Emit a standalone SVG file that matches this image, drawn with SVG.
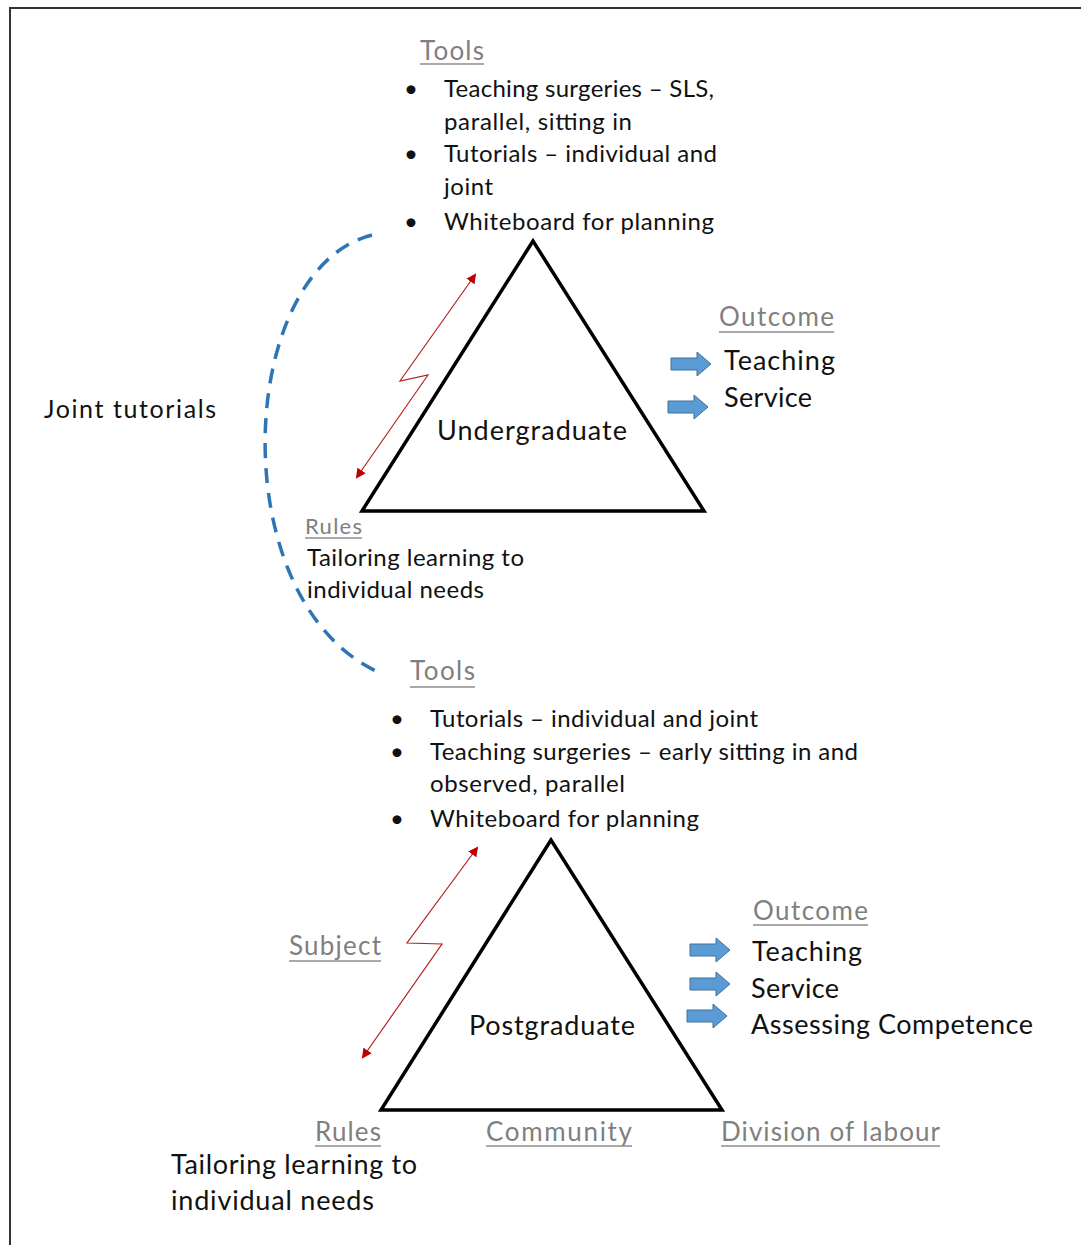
<svg xmlns="http://www.w3.org/2000/svg" width="1081" height="1245" viewBox="0 0 1081 1245">
  <style>
    text { font-family: Lato, "Liberation Sans", sans-serif; fill: #111; }
    .hd { fill: #7f7f7f; font-size: 26px; }
    .hd-s { fill: #7f7f7f; font-size: 22px; }
    .ul { stroke: #8c8c8c; stroke-width: 1.6; }
    .body { font-size: 24px; }
    .big { font-size: 27px; }
    .tri { fill: none; stroke: #000; stroke-width: 3.5; stroke-linejoin: miter; }
    .bolt { fill: none; stroke: #b22222; stroke-width: 1.2; marker-start: url(#redhead); marker-end: url(#redhead); }
    .link { fill: none; stroke: #2e75b6; stroke-width: 3.5; stroke-dasharray: 15 10; }
    .blk { fill: #5b9bd5; stroke: #41719c; stroke-width: 1; }
  </style>
  <defs>
    <marker id="redhead" viewBox="0 0 10 10" refX="8" refY="5" markerWidth="10" markerHeight="10" markerUnits="userSpaceOnUse" orient="auto-start-reverse">
      <path d="M0,0 L10,5 L0,10 Z" fill="#c00000"/>
    </marker>
    <path id="blockArrow" d="M0,6 H26 V0 L40,12 L26,24 V18 H0 Z"/>
  </defs>

  <rect width="1081" height="1245" fill="#fff"/>
  <!-- frame -->
  <path d="M10,1245 V8 H1081" fill="none" stroke="#333" stroke-width="2"/>

  <!-- connectors -->
  <g id="connectors">
    <path class="link" d="M372,235 C235,270 222,600 378,672"/>
    <path class="bolt" d="M475,275 L400,381 L428,375 L357,477"/>
    <path class="bolt" d="M477,848 L407,943 L442,944 L363,1057"/>
  </g>

  <!-- undergraduate activity system -->
  <g id="undergraduate">
    <polygon class="tri" points="533,241 362,511 704,511"/>
    <text class="big" x="437" y="440" textLength="190">Undergraduate</text>
  </g>

  <g id="ug-tools">
    <text class="hd" x="420" y="60" textLength="64">Tools</text>
    <line class="ul" x1="420" y1="64" x2="484" y2="64"/>
    <g class="body">
      <text x="404" y="97">•</text>
      <text x="444" y="97" textLength="270">Teaching surgeries – SLS,</text>
      <text x="444" y="130" textLength="188">parallel, sitting in</text>
      <text x="404" y="162">•</text>
      <text x="444" y="162" textLength="273">Tutorials – individual and</text>
      <text x="444" y="195" textLength="49">joint</text>
      <text x="404" y="230">•</text>
      <text x="444" y="230" textLength="270">Whiteboard for planning</text>
    </g>
  </g>

  <g id="ug-outcome">
    <text class="hd" x="719" y="326" textLength="115">Outcome</text>
    <line class="ul" x1="719" y1="332" x2="834" y2="332"/>
    <use href="#blockArrow" class="blk" x="671" y="352"/>
    <use href="#blockArrow" class="blk" x="668" y="395"/>
    <text class="big" x="724" y="370" textLength="111">Teaching</text>
    <text class="big" x="724" y="407" textLength="88">Service</text>
  </g>

  <g id="ug-rules">
    <text class="hd-s" x="305" y="534" textLength="57">Rules</text>
    <line class="ul" x1="305" y1="538" x2="362" y2="538"/>
    <text class="body" x="307" y="566" textLength="217">Tailoring learning to</text>
    <text class="body" x="307" y="598" textLength="177">individual needs</text>
  </g>

  <g id="joint-tutorials">
    <text x="44" y="418" font-size="25" textLength="172">Joint tutorials</text>
  </g>

  <!-- postgraduate activity system -->
  <g id="postgraduate">
    <polygon class="tri" points="551,840 381,1110 722,1110"/>
    <text class="big" x="469" y="1035" textLength="166">Postgraduate</text>
  </g>

  <g id="pg-tools">
    <text class="hd" x="410" y="680" textLength="65">Tools</text>
    <line class="ul" x1="410" y1="687" x2="475" y2="687"/>
    <g class="body">
      <text x="390" y="727">•</text>
      <text x="430" y="727" textLength="328">Tutorials – individual and joint</text>
      <text x="390" y="760">•</text>
      <text x="430" y="760" textLength="428">Teaching surgeries – early sitting in and</text>
      <text x="430" y="792" textLength="195">observed, parallel</text>
      <text x="390" y="827">•</text>
      <text x="430" y="827" textLength="269">Whiteboard for planning</text>
    </g>
  </g>

  <g id="pg-subject">
    <text class="hd" x="289" y="955" textLength="92">Subject</text>
    <line class="ul" x1="289" y1="961" x2="381" y2="961"/>
  </g>

  <g id="pg-outcome">
    <text class="hd" x="753" y="920" textLength="115">Outcome</text>
    <line class="ul" x1="753" y1="925" x2="868" y2="925"/>
    <use href="#blockArrow" class="blk" x="690" y="938"/>
    <use href="#blockArrow" class="blk" x="690" y="972"/>
    <use href="#blockArrow" class="blk" x="687" y="1004"/>
    <text class="big" x="752" y="961" textLength="110">Teaching</text>
    <text class="big" x="751" y="998" textLength="88">Service</text>
    <text class="big" x="751" y="1034" textLength="282">Assessing Competence</text>
  </g>

  <g id="pg-rules">
    <text class="hd" x="315" y="1141" textLength="66">Rules</text>
    <line class="ul" x1="315" y1="1146" x2="381" y2="1146"/>
    <text class="big" x="171" y="1174" textLength="246">Tailoring learning to</text>
    <text class="big" x="171" y="1210" textLength="203">individual needs</text>
  </g>

  <g id="pg-community">
    <text class="hd" x="486" y="1141" textLength="146">Community</text>
    <line class="ul" x1="486" y1="1146" x2="632" y2="1146"/>
  </g>

  <g id="pg-division">
    <text class="hd" x="721" y="1141" textLength="219">Division of labour</text>
    <line class="ul" x1="721" y1="1146" x2="940" y2="1146"/>
  </g>
</svg>
